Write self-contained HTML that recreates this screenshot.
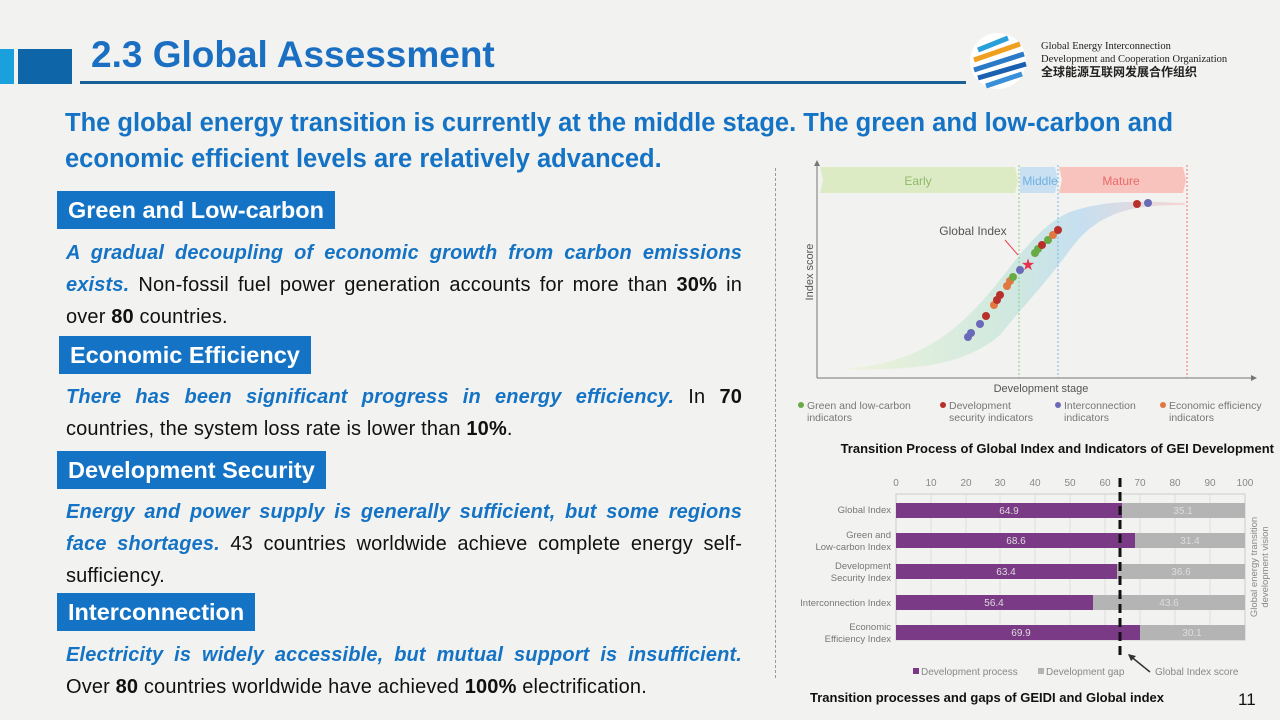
<!DOCTYPE html>
<html><head><meta charset="utf-8"><style>
body{margin:0;width:1280px;height:720px;background:#f2f2f0;position:relative;overflow:hidden;font-family:"Liberation Sans",sans-serif}
.a{position:absolute}
.h{position:absolute;background:#1473c4;color:#fff;font-weight:bold;font-size:23.5px;line-height:38px;padding:0 11px;height:38px;white-space:nowrap}
.p{position:absolute;left:66px;width:676px;font-size:20px;line-height:32px;color:#111;text-align:justify;letter-spacing:0.15px}
.p i{color:#1473c4;font-weight:bold}
</style></head><body>
<div class="a" style="left:0;top:49px;width:14px;height:35px;background:#1aa0dc"></div>
<div class="a" style="left:18px;top:49px;width:54px;height:35px;background:#0e65a8"></div>
<div class="a" style="left:91px;top:34px;font-size:37px;font-weight:bold;color:#1a6fc2">2.3 Global Assessment</div>
<div class="a" style="left:80px;top:81px;width:886px;height:3px;background:#1a5f98"></div>
<svg class="a" style="left:968px;top:30px" width="64" height="62"><circle cx="30" cy="31" r="28" fill="#fff"/>
<g stroke-width="5" fill="none"><path d="M10 20 L40 8" stroke="#2aa0d8"/><path d="M6 30 L52 14" stroke="#f0a020"/><path d="M6 40 L56 24" stroke="#2a7ac8"/><path d="M10 48 L58 34" stroke="#1a5fb0"/><path d="M18 56 L54 44" stroke="#3a90d8"/></g></svg>
<div class="a" style="left:1041px;top:40px;font-family:'Liberation Serif',serif;font-size:10.5px;line-height:13px;color:#222">Global Energy Interconnection<br>Development and Cooperation Organization<br><b style="font-family:'Liberation Sans','Noto Sans CJK SC',sans-serif;font-size:12px">全球能源互联网发展合作组织</b></div>

<div class="a" style="left:65px;top:105px;font-size:25.5px;line-height:36px;font-weight:bold;color:#1473c4;width:1150px">The global energy transition is currently at the middle stage. The green and low-carbon and economic efficient levels are relatively advanced.</div>

<div class="h" style="left:57px;top:191px">Green and Low-carbon</div>
<div class="p" style="top:237px"><i>A gradual decoupling of economic growth from carbon emissions exists.</i> Non-fossil fuel power generation accounts for more than <b>30%</b> in over <b>80</b> countries.</div>
<div class="h" style="left:59px;top:336px">Economic Efficiency</div>
<div class="p" style="top:381px"><i>There has been significant progress in energy efficiency.</i> In <b>70</b> countries, the system loss rate is lower than <b>10%</b>.</div>
<div class="h" style="left:57px;top:451px">Development Security</div>
<div class="p" style="top:496px"><i>Energy and power supply is generally sufficient, but some regions face shortages.</i> 43 countries worldwide achieve complete energy self-sufficiency.</div>
<div class="h" style="left:57px;top:593px">Interconnection</div>
<div class="p" style="top:639px"><i>Electricity is widely accessible, but mutual support is insufficient.</i> Over <b>80</b> countries worldwide have achieved <b>100%</b> electrification.</div>

<div class="a" style="left:775px;top:168px;height:510px;border-left:1.5px dashed #999"></div>

<svg class="a" style="left:780px;top:160px" width="500" height="300" font-family="Liberation Sans">
<defs><linearGradient id="g1" x1="0" x2="1"><stop offset="0" stop-color="#eef3d8"/><stop offset="0.5" stop-color="#cfe8e0"/><stop offset="0.7" stop-color="#c6dff0"/><stop offset="1" stop-color="#f6d6d2"/></linearGradient></defs>
<polygon points="40,7 235,7 238,20 235,33 40,33 43,20" fill="#dcebc4"/>
<polygon points="240,7 275,7 278,20 275,33 240,33" fill="#c9e0f2"/>
<polygon points="279,7 403,7 406,20 403,33 279,33 282,20" fill="#f8c3bd"/>
<text x="138" y="25" font-size="12" fill="#8fba6a" text-anchor="middle">Early</text>
<text x="260" y="25" font-size="12" fill="#6fb0e0" text-anchor="middle">Middle</text>
<text x="341" y="25" font-size="12" fill="#e86a6a" text-anchor="middle">Mature</text>
<path d="M60 209 C140 205 180 170 220 120 C250 80 270 60 290 52 C330 38 370 42 405 43 L405 45 C360 45 320 48 290 90 C260 130 240 150 220 175 C180 210 120 210 60 209Z" fill="url(#g1)"/>
<line x1="239" y1="5" x2="239" y2="218" stroke="#8ccf7a" stroke-dasharray="2,2"/>
<line x1="278" y1="5" x2="278" y2="218" stroke="#7ab8e8" stroke-dasharray="2,2"/>
<line x1="407" y1="5" x2="407" y2="218" stroke="#f07070" stroke-dasharray="2,2"/>
<line x1="37" y1="218" x2="37" y2="3" stroke="#777"/><line x1="37" y1="218" x2="475" y2="218" stroke="#777"/>
<polygon points="37,0 34,6 40,6" fill="#777"/><polygon points="477,218 471,215 471,221" fill="#777"/>
<text x="33" y="112" font-size="11" fill="#555" transform="rotate(-90 33 112)" text-anchor="middle">Index score</text>
<text x="261" y="232" font-size="11" fill="#555" text-anchor="middle">Development stage</text>
<text x="193" y="75" font-size="12" fill="#555" text-anchor="middle">Global Index</text>
<line x1="225" y1="80" x2="238" y2="95" stroke="#e84050"/>
<text x="248" y="110" font-size="16" fill="#e8304a" text-anchor="middle">★</text>
<g>
<circle cx="188" cy="177" r="4" fill="#6a6ab8"/><circle cx="191" cy="173" r="4" fill="#6a6ab8"/><circle cx="200" cy="164" r="4" fill="#6a6ab8"/><circle cx="206" cy="156" r="4" fill="#b8302a"/><circle cx="214" cy="145" r="4" fill="#e07840"/><circle cx="217" cy="140" r="4" fill="#b8302a"/><circle cx="220" cy="135" r="4" fill="#b8302a"/><circle cx="227" cy="126" r="4" fill="#e07840"/><circle cx="230" cy="121" r="4" fill="#e07840"/><circle cx="233" cy="117" r="4" fill="#6aaa44"/><circle cx="240" cy="110" r="4" fill="#6a6ab8"/><circle cx="255" cy="93" r="4" fill="#6aaa44"/><circle cx="258" cy="89" r="4" fill="#6aaa44"/><circle cx="262" cy="85" r="4" fill="#b8302a"/><circle cx="268" cy="80" r="4" fill="#6aaa44"/><circle cx="273" cy="75" r="4" fill="#e07840"/><circle cx="278" cy="70" r="4" fill="#b8302a"/><circle cx="357" cy="44" r="4" fill="#b8302a"/><circle cx="368" cy="43" r="4" fill="#6a6ab8"/>
</g>
<g font-size="10.5" fill="#777">
<circle cx="21" cy="245" r="3" fill="#6aaa44"/><text x="27" y="249">Green and low-carbon</text><text x="27" y="261">indicators</text>
<circle cx="163" cy="245" r="3" fill="#b8302a"/><text x="169" y="249">Development</text><text x="169" y="261">security indicators</text>
<circle cx="278" cy="245" r="3" fill="#6a6ab8"/><text x="284" y="249">Interconnection</text><text x="284" y="261">indicators</text>
<circle cx="383" cy="245" r="3" fill="#e07840"/><text x="389" y="249">Economic efficiency</text><text x="389" y="261">indicators</text>
</g>
<text x="494" y="293" font-size="13" font-weight="bold" fill="#111" text-anchor="end">Transition Process of Global Index and Indicators of GEI Development</text>
</svg>

<svg class="a" style="left:780px;top:470px" width="500" height="250" font-family="Liberation Sans">
<g font-size="10" fill="#888" text-anchor="middle">
<text x="116" y="16">0</text><text x="151" y="16">10</text><text x="186" y="16">20</text><text x="220" y="16">30</text><text x="255" y="16">40</text><text x="290" y="16">50</text><text x="325" y="16">60</text><text x="360" y="16">70</text><text x="395" y="16">80</text><text x="430" y="16">90</text><text x="465" y="16">100</text>
</g>
<rect x="116" y="24" width="349" height="146" fill="none" stroke="#ccc"/>
<g stroke="#ddd"><line x1="151" y1="24" x2="151" y2="170"/><line x1="186" y1="24" x2="186" y2="170"/><line x1="220" y1="24" x2="220" y2="170"/><line x1="255" y1="24" x2="255" y2="170"/><line x1="290" y1="24" x2="290" y2="170"/><line x1="325" y1="24" x2="325" y2="170"/><line x1="360" y1="24" x2="360" y2="170"/><line x1="395" y1="24" x2="395" y2="170"/><line x1="430" y1="24" x2="430" y2="170"/></g>
<g fill="#7a3a86"><rect x="116" y="33" width="226" height="15"/><rect x="116" y="63" width="239" height="15"/><rect x="116" y="94" width="221" height="15"/><rect x="116" y="125" width="197" height="15"/><rect x="116" y="155" width="244" height="15"/></g>
<g fill="#b4b4b4"><rect x="342" y="33" width="123" height="15"/><rect x="355" y="63" width="110" height="15"/><rect x="337" y="94" width="128" height="15"/><rect x="313" y="125" width="152" height="15"/><rect x="360" y="155" width="105" height="15"/></g>
<g font-size="10" fill="#ddd" text-anchor="middle">
<text x="229" y="44">64.9</text><text x="403" y="44">35.1</text><text x="236" y="74">68.6</text><text x="410" y="74">31.4</text><text x="226" y="105">63.4</text><text x="401" y="105">36.6</text><text x="214" y="136">56.4</text><text x="389" y="136">43.6</text><text x="241" y="166">69.9</text><text x="412" y="166">30.1</text>
</g>
<g font-size="9.5" fill="#777" text-anchor="end">
<text x="111" y="43">Global Index</text><text x="111" y="68">Green and</text><text x="111" y="80">Low-carbon Index</text><text x="111" y="99">Development</text><text x="111" y="111">Security Index</text><text x="111" y="136">Interconnection Index</text><text x="111" y="160">Economic</text><text x="111" y="172">Efficiency Index</text>
</g>
<line x1="340" y1="8" x2="340" y2="190" stroke="#111" stroke-width="3" stroke-dasharray="9,5"/>
<line x1="349" y1="185" x2="370" y2="202" stroke="#333" stroke-width="1.5"/><polygon points="348,184 356,186 351,191" fill="#333"/>
<text x="477" y="97" font-size="9.5" fill="#888" text-anchor="middle" transform="rotate(-90 477 97)">Global energy transition</text>
<text x="488" y="97" font-size="9.5" fill="#888" text-anchor="middle" transform="rotate(-90 488 97)">development vision</text>
<g font-size="10" fill="#888"><rect x="133" y="198" width="6" height="6" fill="#7a3a86"/><text x="141" y="205">Development process</text><rect x="258" y="198" width="6" height="6" fill="#b4b4b4"/><text x="266" y="205">Development gap</text><text x="375" y="205">Global Index score</text></g>
<text x="30" y="232" font-size="13" font-weight="bold" fill="#111">Transition processes and gaps of GEIDI and Global index</text>
<text x="458" y="235" font-size="17" fill="#111">11</text>
</svg>
</body></html>
